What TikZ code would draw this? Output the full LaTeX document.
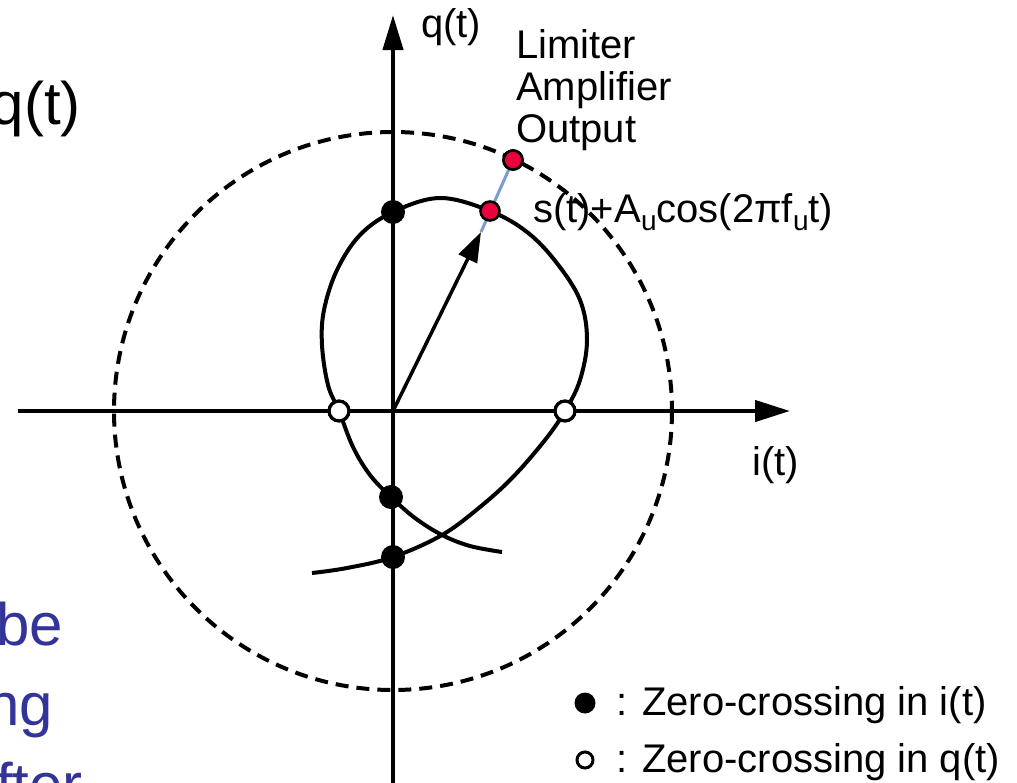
\documentclass[tikz,border=0pt]{standalone}
\usepackage{fontspec}
\setmainfont{Liberation Sans}
\usetikzlibrary{arrows.meta}
\definecolor{dotred}{RGB}{235,0,60}
\definecolor{vecblue}{RGB}{125,155,205}
\definecolor{slideblue}{RGB}{51,51,153}
\tikzset{
  axisline/.style={line width=4.3pt},
  curveline/.style={line width=4pt},
  fdot/.style={circle,fill=black,inner sep=0pt,minimum size=24pt},
  odot/.style={circle,draw=black,fill=white,line width=3.3pt,inner sep=0pt,minimum size=20pt},
  rdot/.style={circle,draw=black,fill=dotred,line width=2.6pt,inner sep=0pt,minimum size=19pt},
  lbl/.style={inner sep=0pt,font=\fontsize{40}{42}\selectfont},
  bigtxt/.style={inner sep=0pt,font=\fontsize{60}{80}\selectfont,text=slideblue},
}
\begin{document}
\begin{tikzpicture}[x=1pt,y=-1pt]
\useasboundingbox (0,0) rectangle (1017,782);
\clip (0,0) rectangle (1017,782);
\fill[white] (0,0) rectangle (1017,782);
\coordinate (O) at (393,411);
% dashed circle
\draw[line width=4pt,dash pattern=on 13pt off 8pt] (O) circle (279);
% trajectory curve
\draw[curveline] plot[smooth,tension=0.6] coordinates {
 (312,573) (347,568) (393,557) (442,535) (480,507) (513,477) (545,440) (565,411)
 (580,380) (587,340) (580,300) (556,262) (527,232) (490,211) (440,198)
 (393,212) (360,235) (337,270) (324,310) (322,345) (328,385) (339,411)
 (353,447) (370,475) (391,497) (415,518) (442,535) (470,546) (502,552)};
% axes
\coordinate (xs) at (18,411);
\coordinate (xe) at (790,411);
\coordinate (ys) at (393,790);
\coordinate (ye) at (393,15);
\draw[axisline,-{Triangle[length=35pt,width=21pt]}] (xs) -- (xe);
\draw[axisline,-{Triangle[length=35pt,width=20pt]}] (ys) -- (ye);
% vector
\node[rdot] (r2) at (513,160) {};
\coordinate (tip) at (481,232);
\draw[line width=3pt,vecblue] (tip) -- (r2);
\draw[line width=3.5pt,-{Triangle[length=30pt,width=20pt]}] (O) -- (tip);
\node[rdot] (r1) at (490,211) {};
\node[rdot] at (r2) {};
% zero crossings
\node[fdot] (z1) at (393,212) {};
\node[fdot] (z2) at (391,497) {};
\node[fdot] (z3) at (393,557) {};
\node[odot] (o1) at (339,411) {};
\node[odot] (o2) at (565,411) {};
% labels
\node[lbl,anchor=base west] (ql) at (421,37) {q(t)};
\node[lbl,anchor=base west] (il) at (752,475) {i(t)};
\node[lbl,anchor=north west,align=left] (lim) at (516,29) {Limiter\\Amplifier\\Output};
\node[lbl,anchor=base west] (sl) at (533,222) {s(t)+A\raisebox{-8pt}{\fontsize{28}{28}\selectfont u}cos(2πf\raisebox{-8pt}{\fontsize{28}{28}\selectfont u}t)};
% legend
\node[fdot,minimum size=21pt] (lg1) at (585,703) {};
\node[odot,minimum size=16pt,line width=3pt] (lg2) at (585,760) {};
\node[lbl,anchor=base west] (lt1) at (616,715) {: Zero-crossing in i(t)};
\node[lbl,anchor=base west] (lt2) at (616,772) {: Zero-crossing in q(t)};
% cut-off slide text
\node[inner sep=0pt,font=\fontsize{60}{60}\selectfont,anchor=base east] (bq) at (81,124) {q(t)};
\node[bigtxt,anchor=base east] (b1) at (63,645) {be};
\node[bigtxt,anchor=base east] (b2) at (53,725) {ng};
\node[bigtxt,anchor=base east] (b3) at (83,805) {fter};
\end{tikzpicture}
\end{document}
